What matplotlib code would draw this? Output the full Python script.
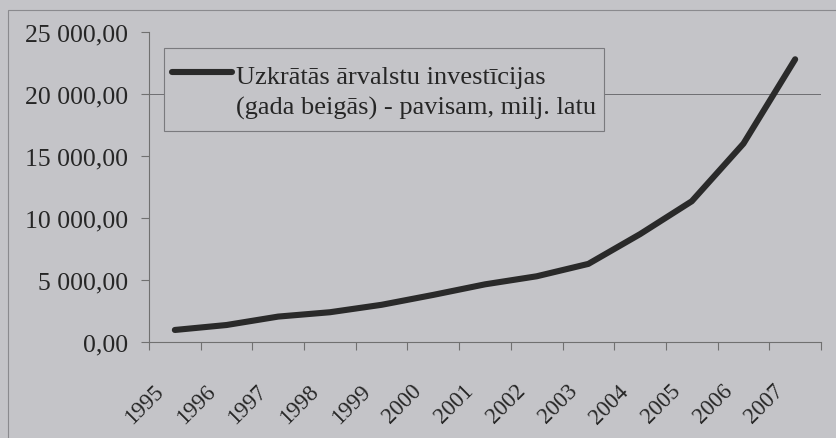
import matplotlib
matplotlib.use("Agg")
import matplotlib.pyplot as plt
from matplotlib.patches import Rectangle
from matplotlib.ticker import FixedLocator, FuncFormatter
from matplotlib.legend_handler import HandlerLine2D
from matplotlib.transforms import ScaledTranslation

years = ["1995", "1996", "1997", "1998", "1999", "2000", "2001",
         "2002", "2003", "2004", "2005", "2006", "2007"]
values = [970, 1370, 2050, 2400, 3000, 3800, 4650, 5300, 6300,
          8700, 11350, 16000, 22800]
series_label = "Uzkrātās ārvalstu investīcijas\n(gada beigās) - pavisam, milj. latu"
y_ticks = [0, 5000, 10000, 15000, 20000, 25000]

W, H = 837, 439
BG = "#c4c4c8"
TXT = "#262626"
AX = "#707070"

plt.rcParams['font.family'] = ['Liberation Serif', 'DejaVu Serif']


class HandlerUp(HandlerLine2D):
    def __init__(self, shift, **kw):
        super().__init__(**kw)
        self.shift = shift

    def create_artists(self, legend, orig_handle, xdescent, ydescent,
                       width, height, fontsize, trans):
        arts = super().create_artists(legend, orig_handle, xdescent, ydescent,
                                      width, height, fontsize, trans)
        for a in arts:
            yd = a.get_ydata()
            a.set_ydata([y + self.shift for y in yd])
        return arts


fig = plt.figure(figsize=(W / 100, H / 100), dpi=100, facecolor=BG)

# outer chart border
fig.add_artist(Rectangle((8 / W, -0.1), 1.2, 1 - 11 / H + 0.1,
                         transform=fig.transFigure, fill=False,
                         edgecolor="#8a8a8e", linewidth=0.8))

x0, x1 = 149, 821
y_top, y_bot = 33, 343
ax = fig.add_axes([x0 / W, 1 - y_bot / H, (x1 - x0) / W, (y_bot - y_top) / H])
ax.set_facecolor("none")

xs = list(range(len(years)))
line, = ax.plot(xs, values, color="#2a2a2a", linewidth=4.4,
                solid_capstyle="round", solid_joinstyle="round",
                label=series_label)

ax.set_xlim(-0.5, len(years) - 0.5)
ax.set_ylim(0, 25000)

ax.axhline(20000, color="#6e6e72", linewidth=0.7, zorder=0)

for s in ["top", "right"]:
    ax.spines[s].set_visible(False)
for s in ["left", "bottom"]:
    ax.spines[s].set_color(AX)
    ax.spines[s].set_linewidth(0.8)

ax.set_yticks(y_ticks)
ax.yaxis.set_major_formatter(FuncFormatter(
    lambda v, p: f"{int(v):,}".replace(",", " ") + ",00"))
ax.tick_params(axis="y", direction="out", length=6, width=0.8, color=AX,
               labelsize=18.5, labelcolor=TXT, pad=9)

ax.set_xticks(xs)
ax.set_xticklabels(years, rotation=45, ha="right", va="top",
                   rotation_mode="anchor")
ax.tick_params(axis="x", which="major", length=0, labelsize=16.5,
               labelcolor=TXT, pad=0)
off = ScaledTranslation(-0.22, -0.38, fig.dpi_scale_trans)
for lab in ax.get_xticklabels():
    lab.set_transform(lab.get_transform() + off)
ax.xaxis.set_minor_locator(FixedLocator([i - 0.5 for i in range(len(years) + 1)]))
ax.tick_params(axis="x", which="minor", direction="out", length=6, width=0.8,
               color=AX)

# legend frame (drawn separately so its padding can match the original)
frame = Rectangle((164 / W, 1 - 132 / H), (604 - 164) / W, (132 - 49) / H,
                  transform=fig.transFigure, facecolor=BG,
                  edgecolor="#7a7a7e", linewidth=0.8, zorder=4, clip_on=False)
ax.add_patch(frame)

leg = ax.legend(handles=[line], loc="upper left",
                bbox_to_anchor=(172 / W, 1 - 67 / H),
                bbox_transform=fig.transFigure,
                frameon=False, fontsize=19, handlelength=2.27,
                handletextpad=0.15, borderpad=0, borderaxespad=0,
                handler_map={line: HandlerUp(14)})
leg.set_zorder(5)
for t in leg.get_texts():
    t.set_color(TXT)
    t.set_linespacing(1.45)

fig.savefig("out.png", dpi=100, facecolor=BG)
